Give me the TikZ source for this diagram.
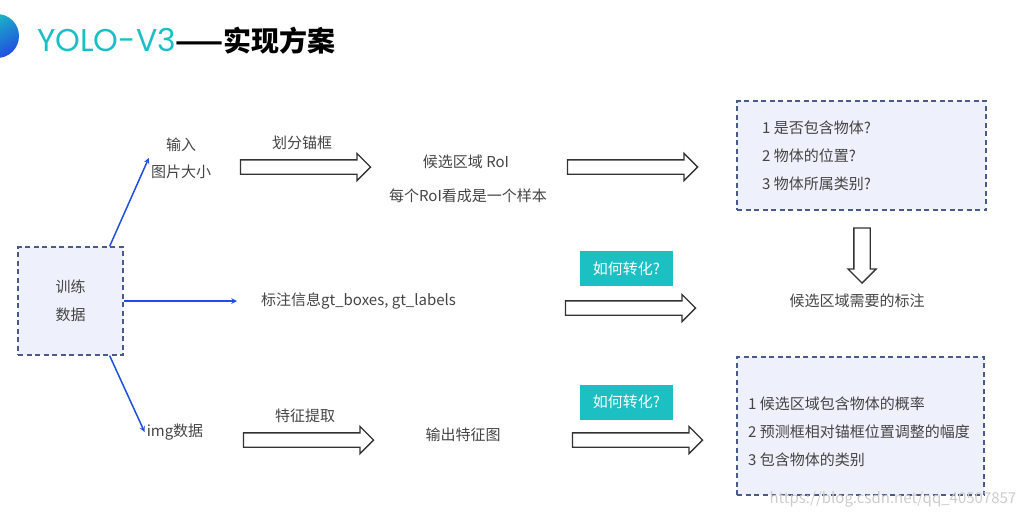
\documentclass[tikz,border=0pt]{standalone}
\usepackage{fontspec}
\setmainfont{Noto Sans CJK SC}
\newfontfamily\titlefont{Poppins}
\usetikzlibrary{positioning,shapes.arrows}
\definecolor{txtgray}{HTML}{444444}
\definecolor{boxline}{HTML}{4A5A8C}
\definecolor{boxfill}{HTML}{EEF0FB}
\definecolor{askteal}{HTML}{1CBFC2}
\definecolor{linkblue}{HTML}{1F4FE0}
\definecolor{titlecyan}{HTML}{1ABFC6}

\begin{document}
\begin{tikzpicture}[x=1pt, y=-1pt,
						txt/.style={text=txtgray, font=\fontsize{15}{28}\selectfont, align=center, inner sep=2pt},
						dbox/.style={rectangle, draw=boxline, fill=boxfill, line width=1.2pt, dash pattern=on 5pt off 3.5pt},
						ask/.style={rectangle, fill=askteal, text=white, font=\fontsize{15}{18}\selectfont, minimum width=93pt, minimum height=35pt},
						harrow/.style={single arrow, draw=black!80, line width=1.3pt, fill=white, inner xsep=0pt, inner ysep=6.5pt, single arrow head extend=6.5pt, minimum height=130pt}
					]
					\useasboundingbox (0,0) rectangle (1024,517);
					% title
					\shade[top color=askteal, bottom color=linkblue, shading angle=30] (-3,36) circle [radius=22pt];
					\node[anchor=base west, inner sep=0pt] (title) at (37,51) {{\titlefont\fontsize{31.5}{31.5}\selectfont\color{titlecyan}YOLO-V3}{\fontsize{28}{28}\selectfont\bfseries ——实现方案}};
					% left part
					\node[dbox, txt, minimum width=105pt, minimum height=108pt] (train) at (70.5,301) {训练\\数据};
					\node[txt, font=\fontsize{15}{27}\selectfont] (input) at (181,158) {输入\\图片大小};
					\node[txt, anchor=west] (gt) at (259,301) {标注信息gt\_boxes, gt\_labels};
					\node[txt] (img) at (175,432) {img数据};
					% hollow arrows
					\node[harrow] (split) at (302,167) {};
					\node[txt] (splitlabel) [above=7pt of split] {划分锚框};
					\node[txt] (roi) at (466,162) {候选区域 RoI};
					\node[txt] (sample) at (468,196) {每个RoI看成是一个样本};
					\node[harrow] (toneed) at (629,167) {};
					\node[harrow] (togt) at (627,308) {};
					\node[ask] (ask1) at (626.5,268.5) {如何转化?};
					\node[harrow] (extract) at (305,440) {};
					\node[txt] (extractlabel) [above=7pt of extract] {特征提取};
					\node[txt] (feat) at (463,435) {输出特征图};
					\node[harrow] (tocls) at (634,440) {};
					\node[ask] (ask2) at (626.5,402) {如何转化?};
					% right part
					\node[dbox, minimum width=249pt, minimum height=109pt] (need) at (861.5,155.5) {};
					\node[txt, align=left, anchor=west] (needtxt) at (760,156) {1 是否包含物体?\\2 物体的位置?\\3 物体所属类别?};
					\node[harrow, rotate=-90, minimum height=55pt, inner ysep=7.5pt, single arrow head extend=6pt] (down) at (862,251.5) {};
					\node[txt] (needlabel) at (857,301) {候选区域需要的标注};
					\node[dbox, minimum width=247pt, minimum height=138pt] (cls) at (860.5,426) {};
					\node[txt, align=left, anchor=west] (clstxt) at (746,431.5) {1 候选区域包含物体的概率\\2 预测框相对锚框位置调整的幅度\\3 包含物体的类别};
					\node[text=gray!40, font=\fontsize{15}{15}\selectfont, anchor=west] (mark) at (766,499) {https://blog.csdn.net/qq\_40507857};
					\begin{scope}[linkblue, line width=1.5pt, -stealth]
					\draw ([xshift=-14pt]train.north east) -- (input.west);
					\draw (train.east) -- (gt.west) [shorten >=22pt];
					\draw ([xshift=-14pt]train.south east) -- (img.west);
					\end{scope}
					\end{tikzpicture}
\end{document}
